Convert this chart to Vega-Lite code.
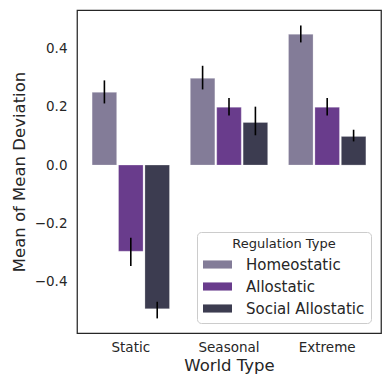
{
  "$schema": "https://vega.github.io/schema/vega-lite/v6.json",
  "width": 304,
  "height": 323,
  "autosize": {"type": "none"},
  "padding": {"left": 77, "top": 10, "right": 9, "bottom": 57},
  "background": "white",
  "config": {
    "font": "DejaVu Sans",
    "view": {"stroke": "#262626", "strokeWidth": 1.25},
    "axis": {
      "domain": false, "ticks": false, "grid": false,
      "labelFont": "DejaVu Sans", "labelFontSize": 13.5, "labelColor": "#262626",
      "titleFont": "DejaVu Sans", "titleFontSize": 16.5, "titleFontWeight": "normal", "titleColor": "#262626"
    }
  },
  "data": {
    "values": [
      {"world": "Static", "reg": "Homeostatic", "mean": 0.249, "lo": 0.211, "hi": 0.290},
      {"world": "Static", "reg": "Allostatic", "mean": -0.295, "lo": -0.346, "hi": -0.249},
      {"world": "Static", "reg": "Social Allostatic", "mean": -0.492, "lo": -0.525, "hi": -0.468},
      {"world": "Seasonal", "reg": "Homeostatic", "mean": 0.297, "lo": 0.259, "hi": 0.340},
      {"world": "Seasonal", "reg": "Allostatic", "mean": 0.198, "lo": 0.170, "hi": 0.230},
      {"world": "Seasonal", "reg": "Social Allostatic", "mean": 0.146, "lo": 0.102, "hi": 0.200},
      {"world": "Extreme", "reg": "Homeostatic", "mean": 0.448, "lo": 0.420, "hi": 0.478},
      {"world": "Extreme", "reg": "Allostatic", "mean": 0.198, "lo": 0.170, "hi": 0.230},
      {"world": "Extreme", "reg": "Social Allostatic", "mean": 0.098, "lo": 0.081, "hi": 0.121}
    ]
  },
  "encoding": {
    "x": {
      "field": "world", "type": "nominal", "sort": ["Static", "Seasonal", "Extreme"],
      "scale": {"paddingInner": 0.212, "paddingOuter": 0.154},
      "axis": {"title": "World Type", "labelAngle": 0, "labelPadding": 7, "titlePadding": 4}
    },
    "xOffset": {
      "field": "reg", "type": "nominal", "sort": ["Homeostatic", "Allostatic", "Social Allostatic"],
      "scale": {"paddingInner": 0.07, "paddingOuter": 0}
    }
  },
  "layer": [
    {
      "mark": {"type": "bar", "stroke": "white", "strokeOpacity": 0.25, "strokeWidth": 1},
      "encoding": {
        "y": {
          "field": "mean", "type": "quantitative",
          "scale": {"domain": [-0.575, 0.531], "nice": false, "zero": false},
          "axis": {"title": "Mean of Mean Deviation", "values": [-0.4, -0.2, 0, 0.2, 0.4], "format": ".1f", "labelPadding": 10, "titlePadding": 7}
        },
        "color": {
          "field": "reg", "type": "nominal",
          "scale": {"domain": ["Homeostatic", "Allostatic", "Social Allostatic"], "range": ["#837c98", "#693c8c", "#3c3c50"]},
          "legend": {
            "title": "Regulation Type", "orient": "none", "legendX": 120, "legendY": 222,
            "titleFontSize": 13, "titleFontWeight": "normal", "titleColor": "#262626", "titleAnchor": "middle", "titlePadding": 6,
            "labelFontSize": 15, "labelColor": "#262626",
            "symbolType": "M-2,-0.56L2,-0.56L2,0.56L-2,0.56Z", "symbolSize": 210, "symbolStrokeWidth": 0, "symbolOpacity": 1,
            "symbolOffset": 7,
            "strokeColor": "#cccccc", "cornerRadius": 4, "fillColor": "white", "padding": 6,
            "rowPadding": 6, "labelOffset": 21
          }
        }
      }
    },
    {
      "mark": {"type": "rule", "color": "black", "strokeWidth": 1.6},
      "encoding": {
        "y": {"field": "lo", "type": "quantitative"},
        "y2": {"field": "hi"}
      }
    }
  ]
}
